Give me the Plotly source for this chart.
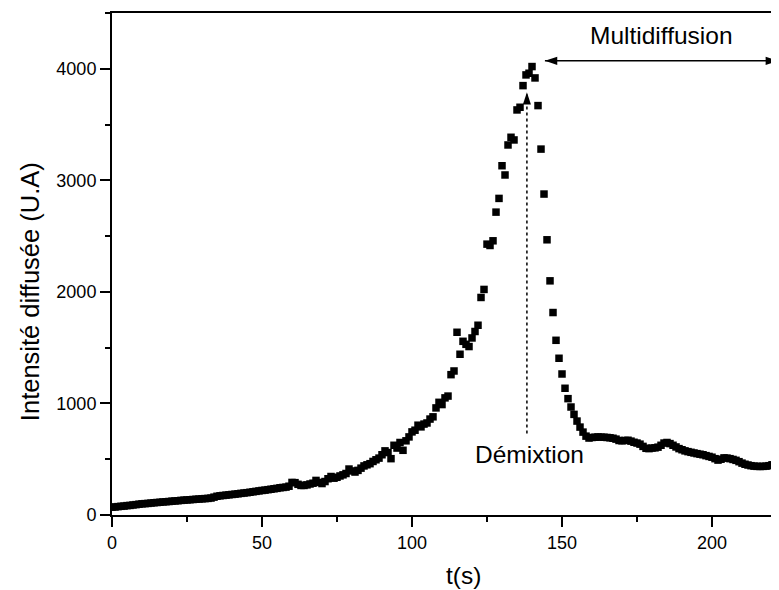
import plotly.graph_objects as go

# time (s)
t_s = [
    0, 1, 2, 3, 4, 5, 6, 7, 8, 9, 10, 11, 12, 13, 14, 15, 16, 17, 18, 19,
    20, 21, 22, 23, 24, 25, 26, 27, 28, 29, 30, 31, 32, 33, 34, 35, 36, 37, 38, 39,
    40, 41, 42, 43, 44, 45, 46, 47, 48, 49, 50, 51, 52, 53, 54, 55, 56, 57, 58, 59,
    60, 61, 62, 63, 64, 65, 66, 67, 68, 69, 70, 71, 72, 73, 74, 75, 76, 77, 78, 79,
    80, 81, 82, 83, 84, 85, 86, 87, 88, 89, 90, 91, 92, 93, 94, 95, 96, 97, 98, 99,
    100, 101, 102, 103, 104, 105, 106, 107, 108, 109, 110, 111, 112, 113, 114, 115, 116, 117, 118, 119,
    120, 121, 122, 123, 124, 125, 126, 127, 128, 129, 130, 131, 132, 133, 134, 135, 136, 137, 138, 139,
    140, 141, 142, 143, 144, 145, 146, 147, 148, 149, 150, 151, 152, 153, 154, 155, 156, 157, 158, 159,
    160, 161, 162, 163, 164, 165, 166, 167, 168, 169, 170, 171, 172, 173, 174, 175, 176, 177, 178, 179,
    180, 181, 182, 183, 184, 185, 186, 187, 188, 189, 190, 191, 192, 193, 194, 195, 196, 197, 198, 199,
    200, 201, 202, 203, 204, 205, 206, 207, 208, 209, 210, 211, 212, 213, 214, 215, 216, 217, 218, 219,
    220, 221, 222,
]

# scattered intensity (U.A)
intensity = [
    70, 72, 75, 78, 80, 84, 86, 90, 93, 97,
    100, 102, 104, 107, 110, 112, 114, 117, 119, 121,
    124, 126, 128, 131, 133, 135, 137, 139, 141, 143,
    145, 147, 149, 152, 160, 168, 172, 175, 178, 181,
    184, 187, 190, 194, 197, 200, 204, 208, 212, 216,
    220, 223, 227, 231, 235, 239, 244, 247, 250, 258,
    292, 290, 275, 265, 265, 270, 278, 285, 310, 292,
    282, 300, 325, 345, 330, 338, 350, 360, 372, 412,
    395, 385, 400, 420, 440, 450, 460, 480, 495, 510,
    540, 575, 560, 505, 625, 600, 650, 580, 665, 700,
    745, 760, 805, 790, 815, 825, 860, 880, 960, 1010,
    990, 1050, 1066, 1258, 1291, 1638, 1441, 1557, 1530, 1510,
    1587, 1645, 1701, 1950, 2022, 2428, 2416, 2458, 2715, 2838,
    3131, 3048, 3317, 3386, 3362, 3631, 3655, 3849, 3945, 3960,
    4020, 3918, 3670, 3280, 2877, 2467, 2099, 1815, 1566, 1405,
    1264, 1136, 1043, 968, 902, 842, 788, 743, 707, 690,
    695, 697, 700, 698, 697, 695, 692, 688, 680, 668,
    665, 668, 670, 662, 652, 645, 635, 615, 598, 595,
    600, 602, 608, 625, 645, 650, 640, 625, 610, 595,
    585, 575, 568, 562, 556, 550, 545, 540, 532, 525,
    518, 505, 492, 500, 512, 510, 505, 498, 490, 478,
    465, 455, 448, 442, 438, 436, 435, 436, 438, 442,
    450, 455, 455,
]

x_ticks = [0, 50, 100, 150, 200]
y_ticks = [0, 1000, 2000, 3000, 4000]

# annotation anchors (data coordinates)
demix_x = [138.3, 138.3]
demix_y = [730, 3790]
multi_x = [144.3, 222.0]
multi_y = [4071, 4071]

FONT = "Arial, 'Liberation Sans', Helvetica, sans-serif"

fig = go.Figure()

fig.add_trace(go.Scatter(
    x=t_s, y=intensity, mode="markers",
    marker=dict(symbol="square", size=7.5, color="black", line=dict(width=0)),
    showlegend=False, hoverinfo="skip",
))

# Démixtion dotted arrow
fig.add_trace(go.Scatter(
    x=demix_x, y=demix_y, mode="lines",
    line=dict(color="black", width=1.5, dash="dot"),
    showlegend=False, hoverinfo="skip",
))
fig.add_trace(go.Scatter(
    x=[demix_x[1]], y=[demix_y[1]], mode="markers",
    marker=dict(symbol="arrow", size=13, color="black", angle=0, line=dict(width=0)),
    showlegend=False, hoverinfo="skip", cliponaxis=False,
))

# Multidiffusion double arrow
fig.add_trace(go.Scatter(
    x=multi_x, y=multi_y, mode="lines",
    line=dict(color="black", width=1.5),
    showlegend=False, hoverinfo="skip", cliponaxis=False,
))
fig.add_trace(go.Scatter(
    x=multi_x, y=multi_y, mode="markers",
    marker=dict(symbol="arrow", size=13, color="black", angle=[-90, 90], line=dict(width=0)),
    showlegend=False, hoverinfo="skip", cliponaxis=False,
))

fig.update_layout(
    width=771, height=582,
    margin=dict(l=104, r=0, t=5, b=75),
    paper_bgcolor="white", plot_bgcolor="white",
    font=dict(family=FONT, color="black", size=18),
    annotations=[
        dict(text="Multidiffusion", x=183.2, y=4300, xref="x", yref="y",
             xanchor="center", yanchor="middle",
             showarrow=False, font=dict(size=24.5, family=FONT, color="black")),
        dict(text="Démixtion", x=139.3, y=545, xref="x", yref="y",
             xanchor="center", yanchor="middle",
             showarrow=False, font=dict(size=24.5, family=FONT, color="black")),
        dict(text="t(s)", x=0.5277, y=-0.1215, xref="paper", yref="paper",
             xanchor="center", yanchor="middle",
             showarrow=False, font=dict(size=24.5, family=FONT, color="black")),
        dict(text="Intensité diffusée (U.A)", x=-0.1229, y=0.444, xref="paper", yref="paper",
             xanchor="center", yanchor="middle",
             showarrow=False, textangle=-90, font=dict(size=25.5, family=FONT, color="black")),
    ],
)

fig.update_xaxes(
    range=[0, 222.33], tickvals=x_ticks, ticks="outside", ticklen=10, tickwidth=2,
    tickcolor="black", showline=True, linecolor="black", linewidth=2, mirror=True,
    showgrid=False, zeroline=False, tickfont=dict(size=18, family=FONT, color="black"),
    minor=dict(dtick=25, tick0=0, ticks="outside", ticklen=5, tickwidth=2, tickcolor="black"),
)
fig.update_yaxes(
    range=[0, 4500], tickvals=y_ticks, ticks="outside", ticklen=10, tickwidth=2,
    tickcolor="black", showline=True, linecolor="black", linewidth=2, mirror=False,
    showgrid=False, zeroline=False, tickfont=dict(size=18, family=FONT, color="black"),
    minor=dict(dtick=500, tick0=0, ticks="outside", ticklen=5, tickwidth=2, tickcolor="black"),
)

fig.write_html("out.html")
